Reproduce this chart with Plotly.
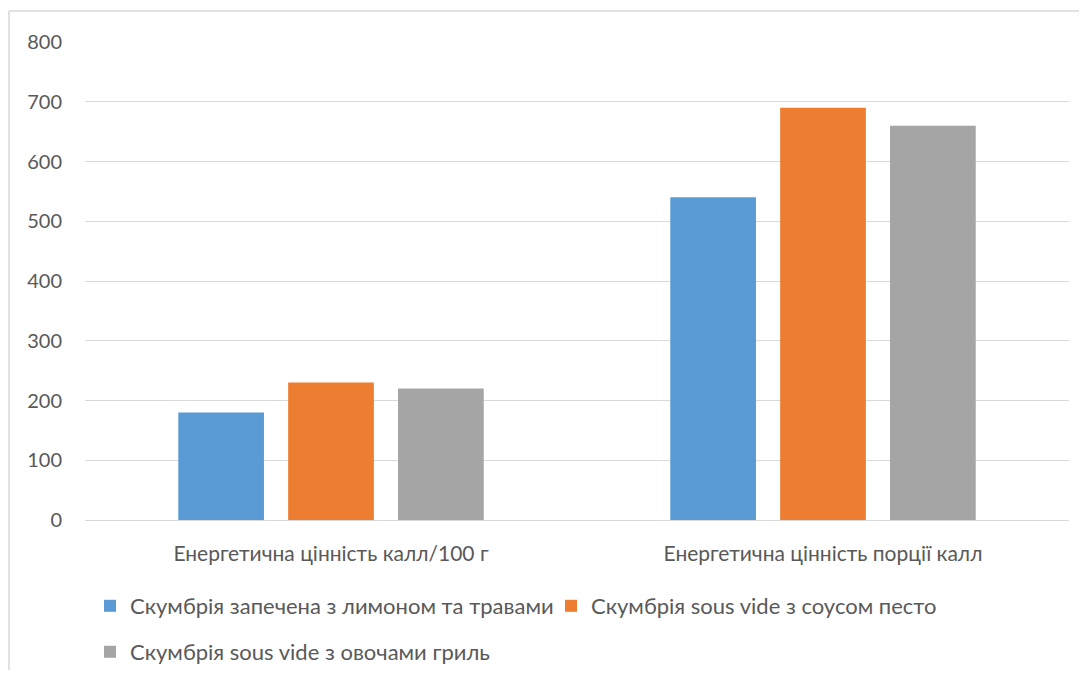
import plotly.graph_objects as go

categories = ["Енергетична цінність калл/100 г", "Енергетична цінність порції калл"]
series_names = [
    "Скумбрія запечена з лимоном та травами",
    "Скумбрія sous vide з соусом песто",
    "Скумбрія sous vide з овочами гриль",
]
values_baked = [180, 540]
values_pesto = [230, 690]
values_grill = [220, 660]
colors = ["#5B9BD5", "#ED7D31", "#A5A5A5"]
y_ticks = [0, 100, 200, 300, 400, 500, 600, 700, 800]

FONT = "Lato"
TXT = "#595959"

# page body has an 8px margin; figure coordinates are reference pixels minus 8
OFF = 8
W, H = 1087 - 2 * OFF, 678 - 2 * OFF
plot_left, plot_right, plot_top, plot_bottom = 85 - OFF, 1069 - OFF, 42 - OFF, 520 - OFF
ml, mr, mt, mb = plot_left, W - plot_right, plot_top, H - plot_bottom
pw, ph = plot_right - plot_left, plot_bottom - plot_top


def px_x(x):
    return (x - OFF - ml) / pw


def px_y(y):
    return (plot_bottom - (y - OFF)) / ph


def cx(x):
    return (x - OFF) / W


def cy(y):
    return 1 - (y - OFF) / H


fig = go.Figure()
for name, vals, col, lg in zip(series_names, [values_baked, values_pesto, values_grill],
                               colors, ["legend", "legend3", "legend2"]):
    fig.add_trace(go.Bar(name=name, x=categories, y=vals, marker_color=col,
                         marker_line_width=0, legend=lg))

LEG_FONT = dict(size=22, color=TXT, family=FONT)
common_leg = dict(orientation="h", xanchor="left", yanchor="middle", xref="container",
                  yref="container", font=LEG_FONT, bgcolor="rgba(0,0,0,0)")
fig.update_layout(
    width=W, height=H,
    margin=dict(l=ml, r=mr, t=mt, b=mb, autoexpand=False),
    paper_bgcolor="white", plot_bgcolor="white",
    font=dict(family=FONT, color=TXT, size=20),
    barmode="group", bargap=0.33, bargroupgap=0.22,
    xaxis=dict(showgrid=False, showline=True, linecolor="#D9D9D9", linewidth=1,
               ticks="", tickfont=dict(size=21, color=TXT), ticklabelstandoff=15,
               automargin=False),
    yaxis=dict(range=[0, 800], tickvals=y_ticks, showgrid=True, gridcolor="#D9D9D9",
               gridwidth=1, zeroline=False, showline=False, ticks="",
               tickfont=dict(size=20, color=TXT), ticklabelstandoff=22, automargin=False),
    legend=dict(x=cx(90), y=cy(606), **common_leg),
    legend2=dict(x=cx(90), y=cy(652), **common_leg),
    legend3=dict(x=cx(551), y=cy(606), **common_leg),
    showlegend=True,
)

# chart area border (left and top edges visible)
fig.add_shape(type="line", xref="paper", yref="paper",
              x0=px_x(9), x1=px_x(1090), y0=px_y(11), y1=px_y(11),
              line=dict(color="#D9D9D9", width=1.5))
fig.add_shape(type="line", xref="paper", yref="paper",
              x0=px_x(9), x1=px_x(9), y0=px_y(11), y1=px_y(690),
              line=dict(color="#D9D9D9", width=1.5))

fig.write_html("out.html")
